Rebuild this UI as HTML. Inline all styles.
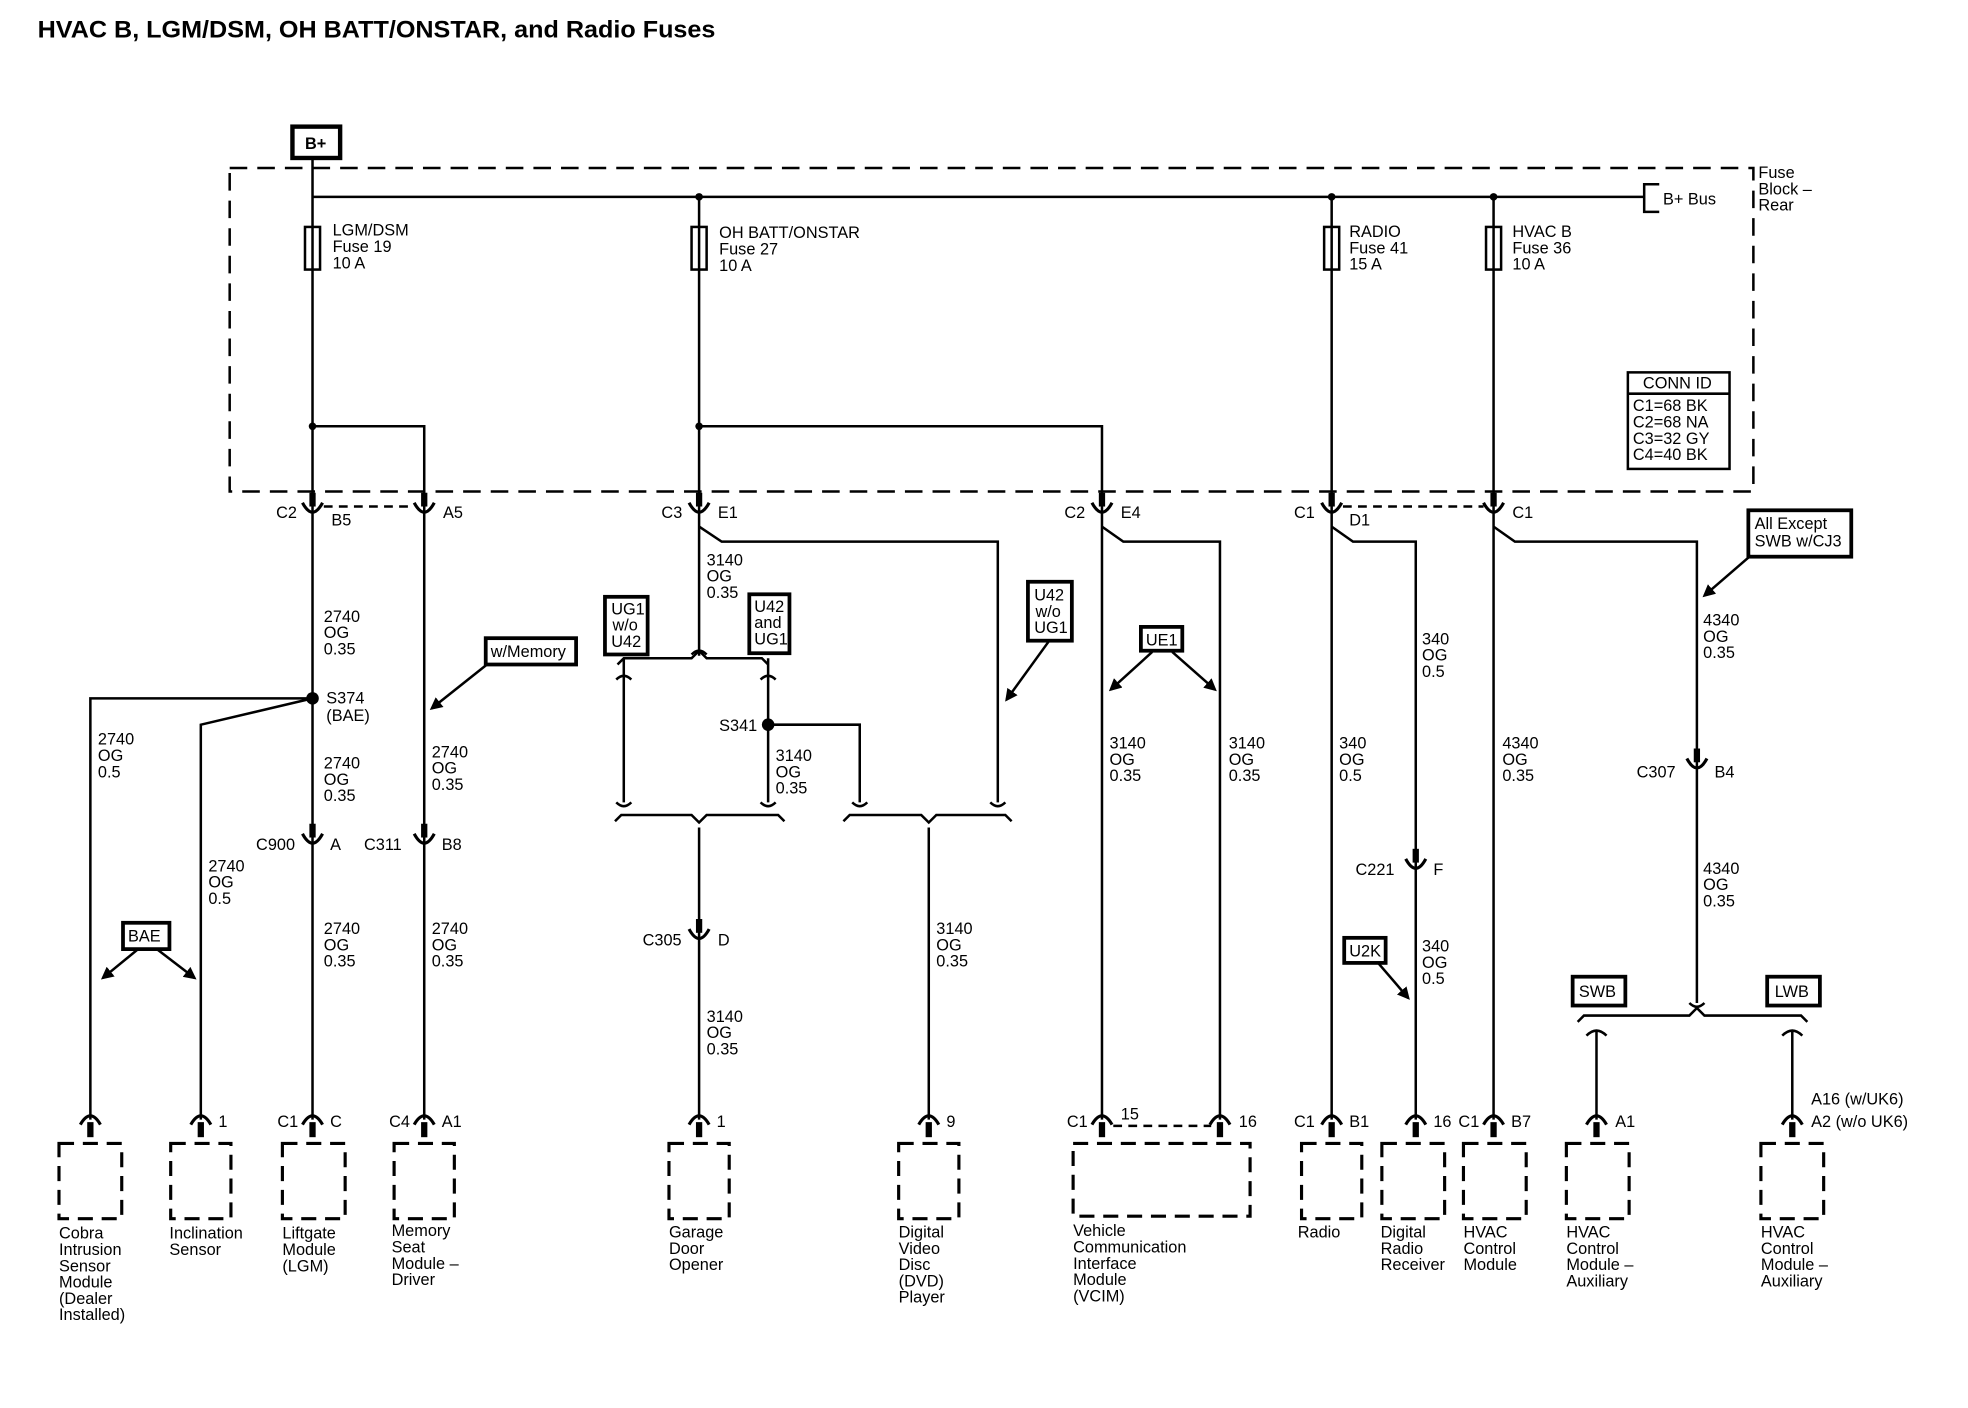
<!DOCTYPE html>
<html><head><meta charset="utf-8"><style>
html,body{margin:0;padding:0;background:#fff}
svg{display:block}
text{font-family:"Liberation Sans",Arial,sans-serif;font-size:13px;fill:#000}
</style></head><body>
<svg width="1968" height="1408" viewBox="0 0 1568 1123" preserveAspectRatio="none" xmlns="http://www.w3.org/2000/svg">
<defs>
<g id="cu"><rect x="-2.5" y="-15" width="5" height="11" fill="#000"/><path d="M-8,-7 Q0,8 8,-7" fill="none" stroke="#000" stroke-width="2.5"/></g>
<g id="cd"><path d="M-8,2 Q0,-12 8,2" fill="none" stroke="#000" stroke-width="2.5"/><rect x="-2.5" y="0" width="5" height="12" fill="#000"/></g>
<g id="fz"><rect x="-6" y="0" width="12" height="34" fill="#fff" stroke="#000" stroke-width="2"/><line x1="0" y1="0" x2="0" y2="34" stroke="#000" stroke-width="2"/></g>
<marker id="ar" markerWidth="10" markerHeight="10" refX="8" refY="5" orient="auto" markerUnits="userSpaceOnUse"><path d="M0,0 L10,5 L0,10 z" fill="#000"/></marker>
</defs>
<text x="30" y="30" style="font-size:19px;font-weight:bold" textLength="540" lengthAdjust="spacingAndGlyphs">HVAC B, LGM/DSM, OH BATT/ONSTAR, and Radio Fuses</text>

<rect x="233" y="101" width="38" height="25" fill="#fff" stroke="#000" stroke-width="3.5"/>
<text x="243" y="119" style="font-weight:bold">B+</text>

<rect x="183" y="134" width="1214" height="258" fill="none" stroke="#000" stroke-width="2" stroke-dasharray="14,8"/>
<text x="1401" y="142">Fuse</text><text x="1401" y="155">Block –</text><text x="1401" y="168">Rear</text>

<g stroke="#000" stroke-width="2" fill="none">
<line x1="249" y1="127" x2="249" y2="893"/>
<line x1="249" y1="157" x2="1310" y2="157"/>
<path d="M1322,147 L1310,147 L1310,169 L1322,169"/>
<line x1="557" y1="157" x2="557" y2="523"/>
<line x1="1061" y1="157" x2="1061" y2="893"/>
<line x1="1190" y1="157" x2="1190" y2="893"/>
<path d="M249,340 L338,340 L338,893"/>
<path d="M557,340 L878,340 L878,893"/>
<line x1="258" y1="404" x2="330" y2="404" stroke-dasharray="7,5"/>
<line x1="1070" y1="404" x2="1182" y2="404" stroke-dasharray="7,5"/>
<path d="M249,557 L72,557 L72,893"/>
<path d="M249,557 L160,578 L160,893"/>
<path d="M557,420 L575,432 L795,432 L795,640"/>
<path d="M492,530 L497,525 L551,525 L557,519 L563,525 L607,525 L612,530"/>
<line x1="497" y1="525" x2="497" y2="640"/>
<line x1="612" y1="525" x2="612" y2="640"/>
<path d="M612,578 L685,578 L685,640"/>
<path d="M490,655 L495,650 L551,650 L557,656 L563,650 L620,650 L625,655"/>
<line x1="557" y1="660" x2="557" y2="893"/>
<path d="M672,655 L677,650 L734,650 L740,656 L746,650 L801,650 L806,655"/>
<line x1="740" y1="660" x2="740" y2="893"/>
<path d="M878,420 L895,432 L972,432 L972,893"/>
<path d="M1061,420 L1078,432 L1128,432 L1128,893"/>
<path d="M1190,420 L1207,432 L1352,432 L1352,800"/>
<path d="M1257,815 L1262,810 L1346,810 L1352,804 L1358,810 L1435,810 L1440,815"/>
<line x1="1272" y1="822" x2="1272" y2="893"/>
<line x1="1428" y1="822" x2="1428" y2="893"/>
<line x1="887" y1="898" x2="965" y2="898" stroke-dasharray="7,5"/>
</g>
<g stroke="#000" stroke-width="2" fill="none">
<path d="M491,542 Q497,536 503,542"/><path d="M606,542 Q612,536 618,542"/>
<path d="M491,640 Q497,646 503,640"/><path d="M606,640 Q612,646 618,640"/>
<path d="M679,640 Q685,646 691,640"/><path d="M789,640 Q795,646 801,640"/>
<path d="M551,522 Q557,516 563,522"/>
<path d="M1264,826 Q1272,818 1280,826"/><path d="M1420,826 Q1428,818 1436,826"/>
<path d="M1346,800 Q1352,806 1358,800"/>
</g>
<g fill="#000">
<circle cx="557" cy="157" r="3"/><circle cx="1061" cy="157" r="3"/><circle cx="1190" cy="157" r="3"/>
<circle cx="249" cy="340" r="3"/><circle cx="557" cy="340" r="3"/>
<circle cx="249" cy="557" r="5"/><circle cx="612" cy="578" r="5"/>
</g>

<use href="#fz" x="249" y="181"/><use href="#fz" x="557" y="181"/><use href="#fz" x="1061" y="181"/><use href="#fz" x="1190" y="181"/>
<text x="265" y="188">LGM/DSM</text><text x="265" y="201">Fuse 19</text><text x="265" y="214">10 A</text>
<text x="573" y="190">OH BATT/ONSTAR</text><text x="573" y="203">Fuse 27</text><text x="573" y="216">10 A</text>
<text x="1075" y="189">RADIO</text><text x="1075" y="202">Fuse 41</text><text x="1075" y="215">15 A</text>
<text x="1205" y="189">HVAC B</text><text x="1205" y="202">Fuse 36</text><text x="1205" y="215">10 A</text>
<text x="1325" y="163">B+ Bus</text>

<rect x="1297" y="297" width="81" height="77" fill="#fff" stroke="#000" stroke-width="2"/>
<line x1="1297" y1="314" x2="1378" y2="314" stroke="#000" stroke-width="2"/>
<text x="1309" y="310">CONN ID</text>
<text x="1301" y="328">C1=68 BK</text><text x="1301" y="341">C2=68 NA</text><text x="1301" y="354">C3=32 GY</text><text x="1301" y="367">C4=40 BK</text>

<use href="#cu" x="249" y="408"/><use href="#cu" x="338" y="408"/><use href="#cu" x="557" y="408"/><use href="#cu" x="878" y="408"/><use href="#cu" x="1061" y="408"/><use href="#cu" x="1190" y="408"/>
<text x="220" y="413">C2</text><text x="264" y="419">B5</text><text x="353" y="413">A5</text>
<text x="527" y="413">C3</text><text x="572" y="413">E1</text>
<text x="848" y="413">C2</text><text x="893" y="413">E4</text>
<text x="1031" y="413">C1</text><text x="1075" y="419">D1</text><text x="1205" y="413">C1</text>
<use href="#cu" x="249" y="672"/><use href="#cu" x="338" y="672"/><use href="#cu" x="557" y="748"/><use href="#cu" x="1128" y="692"/><use href="#cu" x="1352" y="612"/>
<text x="204" y="678">C900</text><text x="263" y="678">A</text>
<text x="290" y="678">C311</text><text x="352" y="678">B8</text>
<text x="512" y="754">C305</text><text x="572" y="754">D</text>
<text x="1080" y="698">C221</text><text x="1142" y="698">F</text>
<text x="1304" y="620">C307</text><text x="1366" y="620">B4</text>

<g>
<text x="258" y="496">2740</text><text x="258" y="509">OG</text><text x="258" y="522">0.35</text>
<text x="258" y="613">2740</text><text x="258" y="626">OG</text><text x="258" y="639">0.35</text>
<text x="258" y="745">2740</text><text x="258" y="758">OG</text><text x="258" y="771">0.35</text>
<text x="78" y="594">2740</text><text x="78" y="607">OG</text><text x="78" y="620">0.5</text>
<text x="166" y="695">2740</text><text x="166" y="708">OG</text><text x="166" y="721">0.5</text>
<text x="344" y="604">2740</text><text x="344" y="617">OG</text><text x="344" y="630">0.35</text>
<text x="344" y="745">2740</text><text x="344" y="758">OG</text><text x="344" y="771">0.35</text>
<text x="563" y="451">3140</text><text x="563" y="464">OG</text><text x="563" y="477">0.35</text>
<text x="618" y="607">3140</text><text x="618" y="620">OG</text><text x="618" y="633">0.35</text>
<text x="563" y="815">3140</text><text x="563" y="828">OG</text><text x="563" y="841">0.35</text>
<text x="746" y="745">3140</text><text x="746" y="758">OG</text><text x="746" y="771">0.35</text>
<text x="884" y="597">3140</text><text x="884" y="610">OG</text><text x="884" y="623">0.35</text>
<text x="979" y="597">3140</text><text x="979" y="610">OG</text><text x="979" y="623">0.35</text>
<text x="1067" y="597">340</text><text x="1067" y="610">OG</text><text x="1067" y="623">0.5</text>
<text x="1133" y="514">340</text><text x="1133" y="527">OG</text><text x="1133" y="540">0.5</text>
<text x="1133" y="759">340</text><text x="1133" y="772">OG</text><text x="1133" y="785">0.5</text>
<text x="1197" y="597">4340</text><text x="1197" y="610">OG</text><text x="1197" y="623">0.35</text>
<text x="1357" y="499">4340</text><text x="1357" y="512">OG</text><text x="1357" y="525">0.35</text>
<text x="1357" y="697">4340</text><text x="1357" y="710">OG</text><text x="1357" y="723">0.35</text>
<text x="260" y="561">S374</text><text x="260" y="575">(BAE)</text>
<text x="573" y="583">S341</text>
</g>

<g fill="#fff" stroke="#000" stroke-width="3">
<rect x="387" y="509" width="72" height="21"/>
<rect x="482" y="476" width="34" height="46"/>
<rect x="597" y="474" width="32" height="47"/>
<rect x="819" y="464" width="35" height="47"/>
<rect x="909" y="500" width="33" height="19"/>
<rect x="98" y="736" width="37" height="21"/>
<rect x="1071" y="748" width="33" height="20"/>
<rect x="1393" y="407" width="82" height="37"/>
<rect x="1253" y="779" width="42" height="23"/>
<rect x="1408" y="779" width="42" height="23"/>
</g>
<text x="391" y="524">w/Memory</text>
<text x="487" y="490">UG1</text><text x="488" y="503">w/o</text><text x="487" y="516">U42</text>
<text x="601" y="488">U42</text><text x="601" y="501">and</text><text x="601" y="514">UG1</text>
<text x="824" y="479">U42</text><text x="825" y="492">w/o</text><text x="824" y="505">UG1</text>
<text x="913" y="515">UE1</text>
<text x="102" y="751">BAE</text>
<text x="1075" y="763">U2K</text>
<text x="1398" y="422">All Except</text><text x="1398" y="436">SWB w/CJ3</text>
<text x="1258" y="795">SWB</text><text x="1414" y="795">LWB</text>

<g stroke="#000" stroke-width="2" marker-end="url(#ar)">
<line x1="388" y1="530" x2="344" y2="565"/>
<line x1="836" y1="511" x2="802" y2="558"/>
<line x1="918" y1="520" x2="885" y2="550"/>
<line x1="934" y1="520" x2="968" y2="550"/>
<line x1="110" y1="757" x2="82" y2="780"/>
<line x1="125" y1="757" x2="155" y2="780"/>
<line x1="1098" y1="768" x2="1122" y2="796"/>
<line x1="1395" y1="443" x2="1358" y2="475"/>
</g>

<g>
<use href="#cd" x="72" y="895"/><use href="#cd" x="160" y="895"/><use href="#cd" x="249" y="895"/><use href="#cd" x="338" y="895"/>
<use href="#cd" x="557" y="895"/><use href="#cd" x="740" y="895"/><use href="#cd" x="878" y="895"/><use href="#cd" x="972" y="895"/>
<use href="#cd" x="1061" y="895"/><use href="#cd" x="1128" y="895"/><use href="#cd" x="1190" y="895"/><use href="#cd" x="1272" y="895"/><use href="#cd" x="1428" y="895"/>
</g>
<text x="174" y="899">1</text><text x="221" y="899">C1</text><text x="263" y="899">C</text>
<text x="310" y="899">C4</text><text x="352" y="899">A1</text>
<text x="571" y="899">1</text><text x="754" y="899">9</text>
<text x="850" y="899">C1</text><text x="893" y="893">15</text><text x="987" y="899">16</text>
<text x="1031" y="899">C1</text><text x="1075" y="899">B1</text><text x="1142" y="899">16</text>
<text x="1162" y="899">C1</text><text x="1204" y="899">B7</text><text x="1287" y="899">A1</text>
<text x="1443" y="881">A16 (w/UK6)</text><text x="1443" y="899">A2 (w/o UK6)</text>

<g fill="none" stroke="#000" stroke-width="2.5" stroke-dasharray="12,7">
<rect x="47" y="912" width="50" height="60"/>
<rect x="136" y="912" width="48" height="60"/>
<rect x="225" y="912" width="50" height="60"/>
<rect x="314" y="912" width="48" height="60"/>
<rect x="533" y="912" width="48" height="60"/>
<rect x="716" y="912" width="48" height="60"/>
<rect x="855" y="912" width="141" height="58"/>
<rect x="1037" y="912" width="48" height="60"/>
<rect x="1101" y="912" width="50" height="60"/>
<rect x="1166" y="912" width="50" height="60"/>
<rect x="1248" y="912" width="50" height="60"/>
<rect x="1403" y="912" width="50" height="60"/>
</g>
<g>
<text x="47" y="988">Cobra</text><text x="47" y="1001">Intrusion</text><text x="47" y="1014">Sensor</text><text x="47" y="1027">Module</text><text x="47" y="1040">(Dealer</text><text x="47" y="1053">Installed)</text>
<text x="135" y="988">Inclination</text><text x="135" y="1001">Sensor</text>
<text x="225" y="988">Liftgate</text><text x="225" y="1001">Module</text><text x="225" y="1014">(LGM)</text>
<text x="312" y="986">Memory</text><text x="312" y="999">Seat</text><text x="312" y="1012">Module –</text><text x="312" y="1025">Driver</text>
<text x="533" y="987">Garage</text><text x="533" y="1000">Door</text><text x="533" y="1013">Opener</text>
<text x="716" y="987">Digital</text><text x="716" y="1000">Video</text><text x="716" y="1013">Disc</text><text x="716" y="1026">(DVD)</text><text x="716" y="1039">Player</text>
<text x="855" y="986">Vehicle</text><text x="855" y="999">Communication</text><text x="855" y="1012">Interface</text><text x="855" y="1025">Module</text><text x="855" y="1038">(VCIM)</text>
<text x="1034" y="987">Radio</text>
<text x="1100" y="987">Digital</text><text x="1100" y="1000">Radio</text><text x="1100" y="1013">Receiver</text>
<text x="1166" y="987">HVAC</text><text x="1166" y="1000">Control</text><text x="1166" y="1013">Module</text>
<text x="1248" y="987">HVAC</text><text x="1248" y="1000">Control</text><text x="1248" y="1013">Module –</text><text x="1248" y="1026">Auxiliary</text>
<text x="1403" y="987">HVAC</text><text x="1403" y="1000">Control</text><text x="1403" y="1013">Module –</text><text x="1403" y="1026">Auxiliary</text>
</g>
</svg>
</body></html>
